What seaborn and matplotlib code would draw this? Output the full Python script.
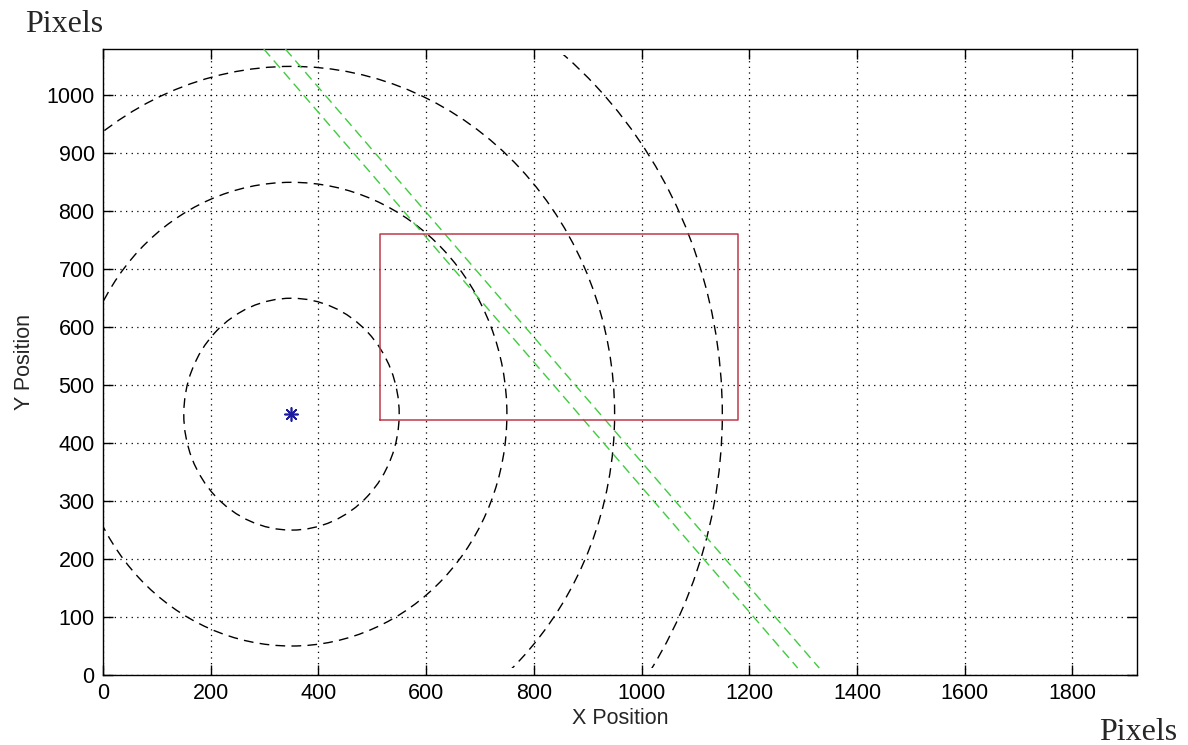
"""
Detection-range sketch: range rings around a source point, a target window
and the two edges of the bearing corridor, drawn in MATLAB-like style.
"""

import matplotlib
matplotlib.use("Agg")
import matplotlib.pyplot as plt
from matplotlib.patches import Circle, Rectangle
import numpy as np
import pandas as pd
import seaborn as sns

# source point and range rings (pixels)
source_x = [350]
source_y = [450]
ring_radii = [200, 400, 600, 800]
ring_y_span = [12, 1070]   # rings are only drawn inside this band

# target window corners (closed)
window_x = [515, 1180, 1180, 515, 515]
window_y = [440, 440, 760, 760, 440]

# two edges of the corridor
edge_a_x = [280, 1290]
edge_a_y = [1100, 12]
edge_b_x = [320, 1330]
edge_b_y = [1100, 12]

x_ticks = [0, 200, 400, 600, 800, 1000, 1200, 1400, 1600, 1800]
y_ticks = [0, 100, 200, 300, 400, 500, 600, 700, 800, 900, 1000]

sns.set_style("ticks")
plt.rcParams['font.family'] = ['Liberation Sans', 'DejaVu Sans']

fig = plt.figure(figsize=(11.88, 7.45), dpi=100)
ax = fig.add_axes([103 / 1188, 70 / 745, 1034 / 1188, 626 / 745])

# range rings, clipped to the band they were drawn in
band = Rectangle((0, ring_y_span[0]), 1920, ring_y_span[1] - ring_y_span[0],
                 transform=ax.transData, fill=False, visible=False)
ax.add_patch(band)
for r in ring_radii:
    ring = Circle((source_x[0], source_y[0]), r, fill=False,
                  edgecolor="black", linewidth=1.0,
                  linestyle=(0, (7, 4.5)), zorder=3)
    ax.add_patch(ring)
    ring.set_clip_path(band)

# corridor edges
green = "#3fcc3f"
for ex, ey in [(edge_a_x, edge_a_y), (edge_b_x, edge_b_y)]:
    edge = pd.DataFrame({"x": ex, "y": ey})
    sns.lineplot(data=edge, x="x", y="y", sort=False, estimator=None,
                 color=green, linewidth=1.0, ax=ax, zorder=4)
for line in ax.lines:
    line.set_dashes((7, 4))

# target window
window = pd.DataFrame({"x": window_x, "y": window_y})
sns.lineplot(data=window, x="x", y="y", sort=False, estimator=None,
             color="#c0394a", linewidth=1.1, ax=ax, zorder=4)

# source point
src = pd.DataFrame({"x": source_x, "y": source_y})
sns.scatterplot(data=src, x="x", y="y", marker=(8, 2, 0), s=90,
                color="#1c1c9c", linewidth=1.2, ax=ax, zorder=5)

ax.set_xlim(0, 1920)
ax.set_ylim(0, 1080)
ax.set_xticks(x_ticks)
ax.set_yticks(y_ticks)
ax.grid(True, color="black", linestyle=(0, (1, 3.5)), linewidth=0.9)
ax.tick_params(direction="in", length=7, width=1, top=True, right=True,
               labelsize=15.5, colors="black", pad=6)
for s in ax.spines.values():
    s.set_linewidth(1.0)
    s.set_color("black")

ax.set_xlabel("X Position", fontsize=15.5, labelpad=3)
ax.set_ylabel("Y Position", fontsize=15.5, labelpad=8)

fig.text(25 / 1188, 1 - 32 / 745, "Pixels", family=["Liberation Serif"],
         fontsize=23, ha="left", va="baseline")
fig.text(1177 / 1188, 5 / 745, "Pixels", family=["Liberation Serif"],
         fontsize=23, ha="right", va="baseline")

plt.savefig("out.png", dpi=100)
